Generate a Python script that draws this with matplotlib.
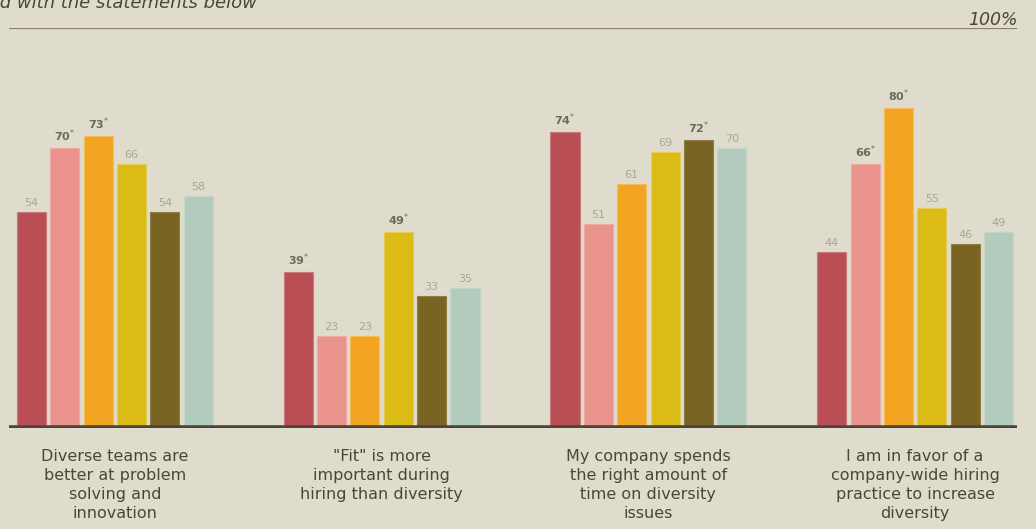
import matplotlib.pyplot as plt
import numpy as np

# Werte pro Aussage, 6 Gruppen (Farben)
categories = ["Diverse teams are\nbetter at problem\nsolving and\ninnovation",
              "\"Fit\" is more\nimportant during\nhiring than diversity",
              "My company spends\nthe right amount of\ntime on diversity\nissues",
              "I am in favor of a\ncompany-wide hiring\npractice to increase\ndiversity"]
series_1 = [54, 39, 74, 44]
series_2 = [70, 23, 51, 66]
series_3 = [73, 23, 61, 80]
series_4 = [66, 49, 69, 55]
series_5 = [54, 33, 72, 46]
series_6 = [58, 35, 70, 49]
# signifikant (Stern)
starred_1 = [False, True, True, False]
starred_2 = [True, False, False, True]
starred_3 = [True, False, False, True]
starred_4 = [False, True, False, False]
starred_5 = [False, False, True, False]
starred_6 = [False, False, False, False]

series = [series_1, series_2, series_3, series_4, series_5, series_6]
starred = [starred_1, starred_2, starred_3, starred_4, starred_5, starred_6]
colors = ['#b94f54', '#ea928c', '#f3a521', '#dbbc16', '#7a6423', '#b3cbbc']
edges = ['#c77a7c', '#f0aaa4', '#f6bc5a', '#e5cc55', '#8f7d48', '#c4d6ca']

bg = '#dfdbcd'
fig = plt.figure(figsize=(10.36, 5.29), dpi=100, facecolor=bg)
ax = fig.add_axes([9 / 1036, 1 - 428 / 529, 1008 / 1036, 400 / 529])
ax.set_facecolor(bg)

x = np.arange(len(categories))
pitch = 0.125
width = 0.109
for i, vals in enumerate(series):
    pos = x + (i - 2.5) * pitch
    ax.bar(pos, vals, width, color=colors[i], edgecolor=edges[i], linewidth=0.8)
    for p, v, s in zip(pos, vals, starred[i]):
        if s:
            ax.text(p, v + 1.0, f"{v}$^{{*}}$", ha='center', va='bottom',
                    fontsize=8, fontweight='bold', color='#6e695b')
        else:
            ax.text(p, v + 1.0, str(v), ha='center', va='bottom',
                    fontsize=8, color='#aaa597')

ax.set_xlim(-0.397, 3.382)
ax.set_ylim(0, 100)
for s in ax.spines.values():
    s.set_visible(False)
ax.set_xticks([])
ax.set_yticks([])
ax.axhline(0, color='#4a4535', linewidth=4)
ax.axhline(100, color='#8b8169', linewidth=1.6)

for xi, c in zip(x, categories):
    ax.text(xi, -5.3, c, ha='center', va='top', fontsize=11.5, color='#4a4638',
            linespacing=1.33)

fig.text(257 / 1036, 1 - 8 / 529, "% who agreed with the statements below",
         ha='right', va='baseline', fontsize=13, style='italic', color='#4a4638')
fig.text(1018 / 1036, 1 - 25 / 529, "100%", ha='right', va='baseline',
         fontsize=12.5, style='italic', color='#4a4638')

fig.savefig('out.png', dpi=100, facecolor=bg)
